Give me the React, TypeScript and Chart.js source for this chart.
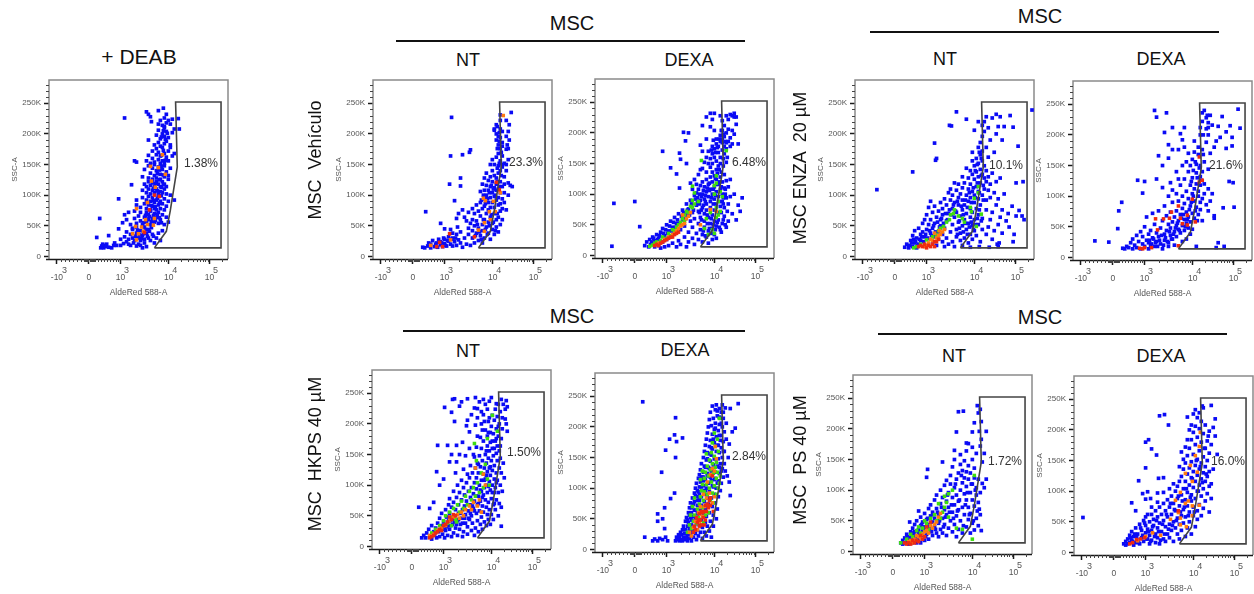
import React, { useEffect, useRef } from "react";
import { Chart, registerables } from "chart.js";
Chart.register(...registerables);

const xMajorTicks = [8, 40, 72, 120.3, 161.3];
const xMajorLabels = ["-10", "0", "10", "10", "10"];
const xSuper = ["3", "", "3", "4", "5"];
const xMinorTicks = [12,16,20,24,28,32,35,36,37,38,39,41,42,43,44,45,46,49,52,55,58,61,64,67,69,86.5,95,101,105.8,109.6,112.8,115.6,118,132.6,139.9,145,149,152.2,155,157.3,159.4,173.6];
const yMajorTicks = [0, 50, 100, 150, 200, 250];
const yMinorTicks = [10,20,30,40,60,70,80,90,110,120,130,140,160,170,180,190,210,220,230,240,260,270,280];
const gateX = [106,118,122,129,127.3,173,173,106];
const gateY = [14,41,75,146,252,252,14,14];

// x is in axis units (biexponential display), y in thousands of SSC-A
const deabBlue = [76,226,51,62,70,94,48,31,60,34,52,14,53,17,55,14,56,18,57,16,58,20,54,20,60,15,63,14,65,18,66,22,68,18,72,18,75,21,78,24,80,20,82,18,85,22,88,17,90,20,92,18,94,14,96,22,98,16,70,45,72,28,76,32,78,40,80,28,82,36,84,30,84,44,86,26,88,38,90,30,92,42,92,26,94,34,96,48,96,28,98,38,100,30,100,44,102,26,104,36,106,22,108,30,110,38,112,26,114,42,84,46,88,48,74,55,76,68,78,60,80,72,82,52,86,62,86,74,88,54,90,66,92,58,92,72,94,52,96,64,98,56,98,72,100,60,100,68,102,52,102,74,104,62,106,56,106,70,108,64,110,54,110,72,112,60,114,68,116,52,118,64,120,56,88,84,88,92,92,80,94,96,96,86,98,78,98,92,100,84,100,98,102,76,102,90,104,82,104,96,106,78,106,88,108,92,108,76,110,84,110,98,112,78,112,90,114,86,116,76,116,94,118,82,120,90,83,117,94,108,96,118,98,104,98,114,100,110,100,122,102,102,102,116,104,108,104,120,106,104,106,114,108,110,108,122,110,102,110,118,112,106,112,114,114,122,114,104,116,110,116,118,118,102,118,114,122,100,126,92,86,156,88,154,94,130,96,142,100,128,100,148,102,136,104,126,104,144,106,132,106,150,108,140,108,128,110,146,112,134,112,126,114,142,116,130,116,148,118,138,120,126,120,132,122,144,98,156,100,165,102,152,104,160,104,172,106,154,108,166,108,176,110,158,110,170,112,152,112,164,114,178,114,156,116,168,116,152,118,162,120,172,120,156,122,178,124,164,126,168,100,190,106,182,108,198,110,186,110,206,112,192,112,180,114,200,116,184,116,196,116,210,118,188,118,204,120,194,122,182,124,202,102,228,98,236,103,220,100,232,110,216,110,238,112,222,114,214,115,242,116,226,118,218,118,232,120,222,122,216,124,224,126,208,130,225,131,208,116,212];
const deabExtra = [87,33,91,35,93,29,95,37,97,44,99,33,101,41,103,47,105,33,89,43,95,55,97,67,99,61,101,65,103,57,105,67,107,59,109,69,111,63,113,55,103,83,105,91,107,81,109,95,111,87,113,99,105,111,107,119,109,107,111,125,113,113,115,117,109,135,111,141,113,147,115,133,113,165,115,173,117,157,113,195,115,205,117,191,119,201];
const deabOrange = [114,166,102,147,110,145,117,134,103,123,107,113,99,88,88,78,106,62,97,60,93,48,99,52,105,51,87,49,95,41,90,37,84,37,88,27];
const deabRed = [106,100,111,98,101,76,96,39];

const vehNtBlue = [79,227,78,164,90,166,98,174,97,170,77,118,88,128,88,115,53,73,82,91,68,54,139,235,128,231,134,222,137,215,50,15,52,14,55,17,56,22,58,14,58,20,60,26,62,16,64,22,65,15,66,28,68,19,68,24,70,16,72,28,72,21,74,17,76,25,76,32,78,20,80,17,80,30,82,24,84,18,84,36,86,27,88,22,88,40,90,15,92,30,94,20,96,36,98,18,100,42,72,45,78,44,85,48,80,38,96,46,98,54,100,30,100,60,102,22,102,50,104,38,104,58,106,26,106,46,108,66,108,34,110,52,110,22,110,42,112,60,112,30,114,48,114,70,116,38,116,56,118,28,118,64,120,44,120,54,122,36,122,70,124,60,124,48,126,64,126,40,128,52,128,74,130,60,84,62,86,70,90,76,92,64,94,58,96,72,100,78,102,70,104,84,106,74,108,88,110,78,112,94,112,82,114,100,116,88,116,76,118,96,118,80,120,104,120,88,122,98,122,80,124,92,124,108,126,84,126,96,128,104,128,86,130,78,130,94,132,88,134,76,132,104,136,100,108,106,110,118,112,108,112,128,114,116,114,136,116,124,116,108,118,130,118,114,120,122,120,140,122,112,122,132,124,118,124,128,126,136,126,110,128,122,128,140,130,114,130,150,132,130,132,118,134,140,136,120,138,116,140,114,118,150,120,158,122,150,124,162,126,148,126,168,128,156,128,176,130,146,130,164,132,152,134,150,136,158,130,186,126,182,124,190,128,194,122,206,124,200,125,212,126,196,128,208,130,204,130,180,134,196,136,204,137,190,135,182,134,175,136,176,128,222,124,215,122,208];
const vehNtExtra = [103,34,105,52,107,40,109,28,111,60,113,44,115,36,117,50,119,68,121,56,123,42,125,70,121,110,123,100,125,122,127,114,125,144,127,152,129,132,109,92,111,100,113,86,115,94,117,104,119,116,69,22,73,18,75,26,63,20,71,30,79,28,83,30,129,170,127,188,125,176,127,202];
const vehNtOrange = [131,230,111,95,113,91,121,90,128,104,117,73,123,73,112,55,118,60,106,43,112,41,78,27,58,18];
const vehNtRed = [124,121,127,109,67,23,64,16,70,16,77,37,102,32];

const vehDexBlue = [19,85,40,88,17,15,45,47,68,170,89,201,94,200,91,187,76,143,82,133,85,167,86,157,92,150,85,110,50,16,52,22,54,14,55,26,56,18,58,30,60,14,60,24,62,34,64,16,64,28,66,38,66,12,68,22,68,44,70,32,70,14,72,26,72,50,74,40,74,16,76,56,76,30,78,20,78,46,80,62,80,36,82,14,82,52,84,24,84,68,86,42,86,18,88,58,88,74,90,30,90,48,92,14,92,66,92,84,94,38,94,22,94,76,96,56,96,90,98,28,98,46,98,70,100,18,100,60,100,98,102,36,102,82,104,26,104,52,104,108,104,72,106,42,106,90,106,62,106,114,108,22,108,34,108,78,108,100,108,120,110,46,110,56,110,68,110,92,110,112,112,30,112,84,112,104,112,74,112,124,114,20,114,40,114,62,114,96,114,116,116,52,116,78,116,88,116,108,116,128,118,26,118,44,118,66,118,100,118,120,118,136,120,34,120,56,120,74,120,92,120,112,120,130,122,28,122,48,122,84,122,104,122,124,122,140,124,58,124,70,124,96,124,116,126,42,126,80,126,108,126,128,128,52,128,88,128,120,128,100,130,64,130,78,130,110,130,132,132,46,132,94,132,122,134,56,134,84,134,112,136,96,136,124,138,68,140,100,142,58,144,82,148,94,146,72,96,118,98,108,100,124,102,116,104,132,106,140,108,142,110,152,112,160,112,136,114,150,114,170,116,158,116,144,118,166,118,178,118,150,120,160,120,174,122,154,122,182,122,190,124,168,124,146,124,178,126,186,126,160,126,196,126,150,128,172,128,184,128,204,128,190,130,178,130,166,130,194,130,212,132,184,132,200,132,174,132,152,134,186,134,206,136,178,136,192,138,204,138,182,140,198,140,226,142,214,144,182,118,222,112,226,116,232,120,232,126,228,128,220,132,228,134,222,136,230,140,232,138,228,142,226,108,212,116,210,120,204,112,190,106,180,108,170,102,102,103,94,105,84,107,74,109,106,111,88,113,66,115,106,117,60,119,84,121,98,123,116,125,88,127,70,129,94,131,108,133,72];
const vehDexExtra = [57,22,59,28,63,26,65,32,69,36,71,42,73,36,75,48,77,40,79,54,81,46,83,58,85,52,87,64,89,70,91,60,93,74,95,66,97,84,99,74,101,92,103,86,105,100,107,96,109,82,111,98,113,110,115,118,117,94,119,108,121,126,123,134,125,120,127,112,129,84,131,100,125,140,127,136,129,146,121,168,123,176,125,190,127,204,129,198,131,186,119,188,117,172,133,160,129,158,105,70,107,58,109,40,111,32,113,52,115,44,117,36,119,50,121,42,123,54,125,46,127,38,129,58,131,50];
const vehDexGreen = [55,15,58,17,60,20,62,22,66,24,68,30,72,28,74,36,76,32,78,42,80,40,82,46,84,50,86,54,88,60,90,56,90,66,92,72,94,70,96,80,98,78,100,84,98,90,100,102,98,113,104,88,110,44,112,60,114,34,116,70,118,42,122,62,122,78,120,36,124,66,124,88,126,72,120,100,120,114,122,118,128,96,126,104,122,130,132,171,107,155];
const vehDexOrange = [64,20,70,26,74,30,78,34,80,36,82,40,84,44,86,48,88,50,90,52,92,60,94,64,96,70,88,66,122,72,116,75,106,50];
const vehDexRed = [60,16,62,18,64,16,66,20,68,22,70,24,72,26,74,28,76,30,78,30,80,34,82,36,84,38];

const enzNtBlue = [22,109,58,138,80,185,102,236,95,214,97,213,82,160,81,157,178,239,159,211,164,180,162,120,169,122,159,24,144,16,143,20,145,22,135,15,125,16,116,15,50,15,52,20,54,14,56,26,58,16,58,34,60,22,60,42,62,14,62,30,64,20,64,46,66,36,66,26,68,54,68,40,70,32,70,60,72,44,72,28,72,68,74,52,74,80,76,38,76,60,76,90,78,20,78,46,78,72,80,32,80,54,80,82,82,18,82,64,84,40,84,74,84,28,86,50,86,88,86,60,88,24,88,36,88,68,88,78,90,16,90,46,90,94,92,30,92,58,92,84,94,20,94,70,94,104,96,40,96,92,96,110,98,24,98,52,98,78,98,100,100,16,100,64,100,88,100,120,102,32,102,44,102,72,102,108,104,56,104,84,104,96,104,118,106,26,106,38,106,66,106,102,108,18,108,50,108,76,108,92,108,112,108,130,110,30,110,60,110,84,110,120,112,44,112,70,112,100,112,144,114,22,114,54,114,90,114,110,114,128,116,36,116,64,116,78,116,96,116,118,116,140,118,28,118,50,118,72,118,106,118,134,118,156,118,170,120,42,120,60,120,88,120,100,120,126,120,148,122,34,122,78,122,114,122,138,122,160,124,52,124,68,124,94,124,106,124,130,124,152,124,178,126,24,126,84,126,120,126,142,126,166,126,186,128,44,128,62,128,100,128,134,128,156,128,172,128,196,130,110,130,128,130,148,130,204,130,220,132,36,132,76,132,92,132,122,132,140,132,178,134,48,134,108,134,130,134,162,134,210,136,60,136,96,136,118,136,190,138,72,138,28,138,136,138,226,140,42,140,104,140,170,142,84,142,122,142,200,142,232,144,52,144,94,144,212,146,64,146,128,146,228,148,38,148,76,148,190,150,102,150,212,152,58,154,70,156,230,155,48,158,82,160,36,162,66,168,66,170,60,165,75,128,214,132,228,112,224,120,206,124,220];
const enzNtExtra = [55,18,57,22,59,28,61,24,63,18,65,28,67,32,69,24,71,36,73,30,75,42,77,34,79,50,81,40,83,56,85,48,87,62,89,54,91,70,93,60,95,76,97,68,99,84,101,74,103,90,105,58,107,82,109,68,111,92,113,80,115,104,117,88,119,112,121,96,123,120,125,104,127,132,129,116,103,36,105,46,109,40,111,54,113,36,115,48,117,56,119,44,121,52,123,62,125,76,127,58,129,92,121,140,123,150,125,170,127,160];
const enzNtGreen = [124,114,120,95,117,73,127,69,122,49,99,70,95,60,89,49,82,35,72,27,59,14,100,76,96,68,92,56,86,46,84,42,78,32,110,56,108,62,116,80,104,66,66,20,62,16,124,104];
const enzNtOrange = [88,40,86,36,84,34,82,30,80,38,78,26,76,28,74,22,72,18,70,16,90,44,85,42];
const enzNtRed = [64,16,66,18,68,16,70,20,72,14,74,18,76,16,78,20,80,24,82,24,84,28,80,16];

const enzDexBlue = [22,27,36,25,45,47,46,76,49,90,65,126,72,124,70,105,82,240,84,229,94,236,166,242,168,211,162,82,157,124,161,122,151,81,142,64,50,15,52,14,54,18,56,16,58,24,60,14,60,30,62,20,64,36,64,16,66,26,68,14,68,42,70,22,70,34,72,18,72,50,74,28,74,66,76,14,76,38,76,24,78,44,78,20,80,32,80,72,82,18,82,54,84,26,84,40,86,34,86,76,88,22,88,48,90,60,90,14,92,38,92,28,92,84,94,44,94,68,96,18,96,54,96,24,98,36,98,74,98,48,100,58,100,30,100,90,102,42,102,66,102,20,104,52,104,76,104,34,104,104,106,60,106,46,106,92,108,40,108,70,108,118,110,26,110,52,110,80,110,100,112,62,112,44,112,128,112,88,114,56,114,74,114,108,114,30,116,48,116,66,116,96,116,140,118,38,118,84,118,118,118,150,118,58,120,72,120,104,120,130,120,160,120,46,122,92,122,64,122,112,122,172,122,190,124,82,124,138,124,120,124,152,124,18,126,100,126,70,126,108,126,168,126,180,128,90,128,132,128,118,128,150,128,200,128,212,128,78,130,96,130,60,130,140,130,176,130,222,130,236,132,104,132,156,132,120,132,240,134,86,134,188,134,210,134,228,136,112,136,76,136,144,136,200,138,92,138,170,138,232,140,216,140,104,142,68,142,180,144,190,144,16,146,214,146,24,148,196,150,230,152,18,154,178,154,205,158,215,160,182,160,196,136,212,136,220,135,232,112,212,100,212,108,202,96,184,92,204,100,176,96,162,90,150,86,166,84,128,90,114,96,100,110,150,106,176,112,180,110,192,116,170,114,156,104,140,106,128,98,122,100,110];
const enzDexExtra = [105,56,107,44,109,64,111,70,113,50,115,62,117,78,119,90,121,100,123,76,125,60,103,48,101,38,99,30,97,42,95,26,93,32,91,20,89,36,87,28,85,18,83,24,81,30,79,22,77,28,119,124,121,142,123,156,125,130,127,146,129,126,131,168,131,200];
const enzDexRed = [127,164,130,126,127,123,120,95,106,84,99,74,83,63,91,63,97,64,108,64,115,69,110,55,115,53,123,58,85,45,67,15,79,16,106,19,70,14,72,16];

const hkpNtBlue = [47,64,65,122,66,165,73,227,81,240,83,241,80,219,88,229,96,241,104,243,103,226,106,225,120,243,118,237,125,233,135,238,136,188,130,33,83,204,76,165,85,165,85,138,95,197,98,187,91,170,90,236,100,215,108,236,112,215,112,240,116,224,96,206,104,198,106,210,110,200,88,150,92,126,84,120,78,138,80,150,72,110,68,100,62,72,58,62,50,14,52,18,54,14,55,22,57,28,58,16,60,34,60,12,62,24,63,18,64,30,65,14,66,38,67,24,68,46,68,16,70,30,70,54,71,20,72,40,73,14,74,60,74,26,75,48,76,18,76,34,77,68,78,54,78,28,79,42,80,16,80,64,81,36,82,72,82,22,83,50,84,30,84,60,85,80,86,42,86,18,87,68,87,54,88,28,88,88,89,36,90,76,90,46,91,16,91,60,92,96,92,24,93,66,93,84,94,38,94,52,95,104,95,74,96,20,96,32,97,58,97,90,98,44,98,112,99,68,99,80,100,26,100,96,100,50,101,120,101,38,102,62,102,86,103,104,103,74,103,18,104,30,104,128,105,54,105,94,105,112,106,42,106,68,106,136,107,82,107,24,107,120,108,100,108,58,108,148,109,36,109,74,109,130,110,90,110,48,110,108,110,160,111,28,111,66,111,140,112,118,112,84,112,56,112,172,113,96,113,40,113,128,114,76,114,150,114,110,114,190,115,64,115,34,115,136,115,100,116,52,116,164,116,88,116,122,116,180,117,72,117,44,117,144,117,204,118,106,118,60,118,128,118,156,119,92,119,36,119,170,119,116,120,78,120,140,120,196,120,52,121,100,121,160,121,214,121,124,122,68,122,184,122,44,122,148,123,110,123,88,123,206,123,132,124,172,124,60,124,224,124,96,125,152,125,120,125,192,125,76,126,140,126,212,126,108,126,164,127,50,127,88,127,232,127,180,128,128,128,70,128,200,128,156,129,100,129,220,129,144,130,120,130,176,130,240,130,64,131,192,131,210,131,90,132,136,132,232,133,112,134,224,134,208,135,200,136,228,94,148,98,160,102,150,106,180,110,220,114,232,118,210,99,132,96,118,90,108,86,100,82,90,78,78];
const hkpNtExtra = [97,46,99,54,101,66,103,58,105,82,107,70,109,92,111,80,113,108,115,116,117,98,119,130,121,88,123,70,125,104,91,38,93,46,89,54,87,44,85,36,83,40,81,44,79,34,77,42,75,32,73,28,71,34,103,146,105,162,107,134,109,178,111,190,113,204,115,156,117,186,119,186,121,172,123,160,125,176,127,196,129,164];
const hkpNtGreen = [60,22,64,28,68,34,72,42,74,50,76,38,78,56,80,48,82,62,84,44,86,68,88,56,90,74,92,62,94,82,96,68,98,90,100,76,102,96,104,82,106,104,108,88,110,120,112,96,114,134,116,110,118,100,105,140,103,168,116,176,121,214,126,188,80,34,85,40];
const hkpNtOrange = [58,18,62,20,66,26,70,30,74,34,78,42,82,48,86,52,90,56,94,60,98,66,102,72,88,46,92,50,100,60,106,66,108,76,110,56,114,100,112,118,104,128];
const hkpNtRed = [58,14,60,16,62,18,64,22,66,24,68,28,70,26,72,34,74,36,76,40,78,48,80,44,82,52,84,50];

const hkpDexBlue = [50,20,58,14,60,17,63,14,65,18,68,16,71,20,73,14,48,241,81,215,75,180,80,187,82,176,88,182,71,162,81,150,67,126,80,92,76,83,70,68,63,58,63,46,68,50,70,34,144,238,141,198,136,230,131,231,132,180,81,14,82,20,83,16,84,24,85,14,85,20,86,28,87,16,87,24,88,14,88,32,89,20,89,38,90,26,90,16,91,46,91,32,92,20,92,52,93,38,93,14,94,26,94,60,94,44,95,18,95,34,95,68,96,52,96,24,96,76,97,40,97,60,97,14,98,30,98,84,98,70,99,46,99,20,99,54,100,92,100,36,100,64,100,78,101,26,101,100,101,50,102,16,102,42,102,86,102,108,103,58,103,72,103,32,104,116,104,94,104,22,104,50,105,80,105,40,105,102,105,122,106,64,106,28,106,130,106,110,107,86,107,48,107,140,107,72,108,18,108,118,108,96,108,36,109,150,109,126,109,58,109,104,110,78,110,28,110,160,110,136,110,90,111,44,111,114,111,170,111,66,112,146,112,100,112,22,112,54,112,180,113,124,113,84,113,158,113,38,113,190,114,74,114,134,114,108,114,200,115,30,115,168,115,60,115,94,115,212,116,144,116,118,116,46,116,178,116,224,117,84,117,154,117,20,117,128,117,202,118,188,118,70,118,104,118,234,118,164,119,38,119,138,119,56,119,214,120,114,120,174,120,90,120,196,120,148,121,228,121,76,121,126,121,206,122,160,122,184,122,100,122,50,122,236,123,136,123,218,123,66,124,170,124,112,124,194,124,148,124,86,125,230,125,124,125,204,125,158,126,178,126,96,126,214,126,140,127,186,127,108,127,224,127,166,128,132,128,200,128,236,128,150,129,118,129,176,129,214,130,140,130,192,130,160,131,128,132,206,133,120,134,150,135,172,135,110,136,88,138,192];
const hkpDexExtra = [93,24,95,30,97,48,99,30,101,64,103,80,105,90,107,102,109,118,111,96,113,120,115,132,117,112,119,102,121,116,123,108,125,134,127,128,129,160,121,148,123,170,125,186,127,206,129,224,123,226,125,216,121,198,119,180,117,166,115,156,113,148,111,134,109,112,107,118,105,84,103,96,101,88,99,74,97,68,95,56,93,48];
const hkpDexGreen = [93,28,95,40,97,34,99,46,100,56,102,42,103,66,104,52,105,74,106,60,106,86,107,96,108,68,108,106,109,44,109,80,110,116,110,94,111,56,111,126,112,72,112,106,113,90,113,136,114,60,114,120,115,100,115,146,116,80,116,130,117,110,117,158,118,92,118,140,119,124,119,76,120,152,120,104,121,168,121,134,122,116,122,90,122,142,123,180,123,126,124,160,124,100,125,214,125,108,126,120,120,190,118,174,112,156,108,128,106,114,100,84,98,70,96,56];
const hkpDexOrange = [95,28,97,22,99,36,101,46,103,32,104,60,105,44,106,70,108,54,109,90,110,70,112,84,113,110,115,92,116,122,118,132,120,128,122,148,120,86,118,76,121,168];
const hkpDexRed = [99,28,100,38,101,32,102,52,103,44,104,48,105,38,105,58,106,48,107,62,107,40,108,60,109,52,110,62,111,48,111,72,112,62,113,74,114,68,115,80,116,72,110,40,116,84,118,120,119,62];

const psNtBlue = [106,228,111,229,125,238,126,226,129,212,122,210,134,196,120,195,104,195,129,183,75,134,74,121,66,66,57,48,130,111,127,69,129,34,122,35,90,146,102,165,114,177,48,14,50,18,50,12,52,14,52,22,54,16,54,28,56,20,56,12,58,32,58,24,60,14,60,38,60,28,62,18,62,44,62,32,64,24,64,14,64,50,66,36,66,20,66,30,68,42,68,14,68,56,70,26,70,48,70,34,72,18,72,62,72,40,74,28,74,52,76,44,76,20,76,70,78,34,78,58,78,76,80,26,80,48,80,64,82,40,82,84,82,54,84,30,84,70,84,92,86,46,86,60,86,24,88,78,88,36,88,100,90,54,90,88,90,30,92,68,92,44,92,108,94,26,94,60,94,82,94,116,96,38,96,96,96,72,98,50,98,124,98,110,100,32,100,88,100,64,100,138,102,44,102,104,102,76,102,150,104,24,104,58,104,118,104,92,106,36,106,82,106,128,106,68,108,100,108,50,108,142,108,158,110,30,110,72,110,112,110,132,112,60,112,94,112,120,112,148,114,40,114,84,114,106,114,130,114,164,116,52,116,72,116,118,116,140,116,176,118,30,118,96,118,62,118,128,120,46,120,84,120,110,120,150,120,170,122,74,122,136,122,120,124,54,124,92,124,104,124,160,126,42,126,80,126,118,128,60,128,96,128,172,130,146,132,160,132,104,134,118,127,196,128,232];
const psNtExtra = [55,24,57,18,59,22,61,30,63,24,65,34,67,28,69,44,71,36,73,24,75,54,77,40,79,32,81,60,83,36,85,64,87,50,89,72,91,40,93,56,95,92,97,64,99,76,101,54,103,110,105,66,107,84,109,124,111,42,113,76,115,96,117,60,119,110,121,50,123,100,125,66];
const psNtGreen = [48,14,54,20,58,28,60,24,64,34,66,40,68,30,70,38,72,50,74,46,76,36,78,54,82,60,84,50,88,54,90,64,92,72,94,80,92,90,96,94,100,100,86,78,96,56,104,38,120,20,110,36,122,124];
const psNtOrange = [56,16,58,18,60,14,62,20,64,26,66,24,68,22,70,28,72,32,74,34,76,30,78,42,80,38,82,44,84,48,86,56,88,62];
const psNtRed = [52,14,54,12,56,14,58,12,60,18,62,14,64,18,66,16,68,26,70,20,72,24,74,40,78,48];

const psDexBlue = [9,57,86,223,91,225,95,208,72,180,75,184,78,169,83,159,72,138,65,117,85,121,90,122,69,96,74,99,84,97,58,81,72,87,77,88,62,68,138,240,129,239,122,233,114,221,136,108,50,14,52,18,52,12,54,22,54,14,56,16,56,28,58,20,58,34,60,12,60,26,62,16,62,40,64,30,64,20,66,46,66,14,68,24,68,36,70,52,70,18,72,32,72,44,72,58,74,22,74,38,76,14,76,50,76,28,78,62,78,36,78,20,80,44,80,54,82,16,82,30,82,68,84,40,84,24,84,58,86,48,86,14,86,74,88,34,88,62,90,22,90,52,90,80,92,42,92,18,92,68,94,58,94,30,94,86,96,46,96,74,96,24,98,36,98,62,98,92,100,50,100,18,100,80,102,40,102,68,102,100,104,30,104,56,104,88,104,108,106,46,106,76,106,116,106,22,108,60,108,36,108,94,108,124,110,70,110,48,110,104,110,136,112,26,112,86,112,58,112,116,112,146,114,40,114,76,114,98,114,128,114,158,116,50,116,66,116,110,116,138,116,170,118,30,118,84,118,94,118,122,118,148,118,184,120,60,120,74,120,106,120,132,120,160,120,196,122,42,122,88,122,116,122,142,122,176,122,206,124,54,124,100,124,68,124,126,124,152,124,188,124,220,126,78,126,110,126,136,126,166,126,202,126,228,128,92,128,60,128,120,128,146,128,180,128,214,130,72,130,104,130,130,130,156,130,194,130,236,132,84,132,116,132,140,132,170,132,208,134,96,134,124,134,150,134,182,136,66,136,132,136,162,136,198,138,112,138,88,138,176,140,204,140,136,142,190,144,160,142,218,110,152,106,140,108,164,112,172,114,184,118,208,116,200,120,226,100,112,96,104,90,98,84,82,78,74,74,62];
const psDexExtra = [57,24,59,18,61,30,63,26,65,16,67,40,69,28,71,48,73,22,75,34,77,18,79,42,81,26,83,52,85,34,87,20,89,46,91,30,93,62,95,38,97,80,99,44,101,70,103,52,105,92,107,66,109,84,111,74,113,104,115,60,117,90,119,120,121,66,123,150,125,100,127,140,129,114,131,170,133,128,135,190];
const psDexOrange = [127,196,126,173,122,158,117,142,112,129,124,131,119,116,107,98,102,85,112,80,115,84,119,76,126,77,105,65,97,54,107,56,119,60,107,45,113,42,87,28,79,32,72,26,64,19];
const psDexRed = [59,16,71,24,63,21,105,68,56,14,67,22];

const pairs = (a: number[]) => { const o: {x:number;y:number}[] = []; for (let i = 0; i < a.length; i += 2) o.push({ x: a[i], y: a[i + 1] }); return o; };
const panels: any[] = [
 {l:49,t:79,pct:"1.38%",px:201,py:163,b:[...deabBlue,...deabExtra],o:deabOrange,r:deabRed},
 {l:373,t:79,pct:"23.3%",px:526,py:162,b:[...vehNtBlue,...vehNtExtra],o:vehNtOrange,r:vehNtRed},
 {l:595,t:78,pct:"6.48%",px:748,py:162,bg:1,b:[...vehDexBlue,...vehDexExtra],g:vehDexGreen,o:vehDexOrange,r:vehDexRed},
 {l:855,t:79,pct:"10.1%",px:1006,py:165,b:[...enzNtBlue,...enzNtExtra],g:enzNtGreen,o:enzNtOrange,r:enzNtRed},
 {l:1073,t:80,pct:"21.6%",px:1226,py:165,b:[...enzDexBlue,...enzDexExtra],r:enzDexRed},
 {l:372,t:369,pct:"1.50%",px:524,py:452,b:[...hkpNtBlue,...hkpNtExtra],g:hkpNtGreen,o:hkpNtOrange,r:hkpNtRed},
 {l:595,t:372,pct:"2.84%",px:748,py:456,bg:1,b:[...hkpDexBlue,...hkpDexExtra],g:hkpDexGreen,o:hkpDexOrange,r:hkpDexRed},
 {l:853,t:374,pct:"1.72%",px:1005,py:461,b:[...psNtBlue,...psNtExtra],g:psNtGreen,o:psNtOrange,r:psNtRed},
 {l:1074,t:375,pct:"16.0%",px:1228,py:461,b:[...psDexBlue,...psDexExtra],o:psDexOrange,r:psDexRed},
];
const ML=42,MT=3,MR=3,MB=39,BOX=180;
const FONT="Liberation Sans";
const frame={id:"frame",beforeDatasetsDraw(c:any){const {ctx,chartArea:a,scales:s}=c;ctx.save();
 ctx.strokeStyle="#8a8a8a";ctx.lineWidth=1.5;ctx.beginPath();ctx.moveTo(a.left,a.bottom);ctx.lineTo(a.left,a.top);ctx.lineTo(a.right,a.top);ctx.lineTo(a.right,a.bottom);ctx.stroke();
 ctx.strokeStyle="#1a1a1a";ctx.beginPath();ctx.moveTo(a.left-3,a.bottom+.5);ctx.lineTo(a.right,a.bottom+.5);ctx.stroke();
 ctx.lineWidth=1;ctx.strokeStyle="#444";ctx.beginPath();
 for(const v of yMinorTicks){const y=Math.round(s.y.getPixelForValue(v))+.5;ctx.moveTo(a.left-3,y);ctx.lineTo(a.left,y);}
 for(const v of xMinorTicks){const x=Math.round(s.x.getPixelForValue(v))+.5;ctx.moveTo(x,a.bottom);ctx.lineTo(x,a.bottom+3);}
 ctx.stroke();ctx.restore();},
 afterDraw(c:any){const {ctx,chartArea:a,scales:s}=c;ctx.save();ctx.fillStyle="#555";ctx.font=`9px '${FONT}'`;ctx.textAlign="center";ctx.textBaseline="middle";
 xMajorTicks.forEach((v,i)=>{if(xSuper[i])ctx.fillText(xSuper[i],s.x.getPixelForValue(v)+(i===0?7.5:6),a.bottom+11.5);});ctx.restore();}};
const layer=(label:string,d:number[]|undefined,color:string,order:number,r:number)=>({label,data:pairs(d||[]),backgroundColor:color,pointStyle:"rect",pointRadius:r,borderWidth:0,order});
function Panel({p}:{p:any}){const ref=useRef<HTMLCanvasElement>(null);
 useEffect(()=>{const c=new Chart(ref.current!,{type:"scatter",plugins:[frame],data:{datasets:[
 {label:"gate",type:"line",data:pairs(gateX.flatMap((x,i)=>[x,gateY[i]])),borderColor:"#444",borderWidth:1.6,pointRadius:0,order:0,tension:0,fill:false} as any,
 layer("red",p.r,"#ee2a10",1,2.5),layer("orange",p.o,"#ff7a10",2,2.5),layer("green",p.g,"#3fdc10",3,2.5),layer("blue",p.b,"#0a0af5",4,2.6),
 ]},options:{animation:false,responsive:false,layout:{padding:{left:0,top:MT,right:MR,bottom:0}},plugins:{legend:{display:false},tooltip:{enabled:false}},
 scales:{x:{type:"linear",min:0,max:180,afterBuildTicks:(s:any)=>{s.ticks=xMajorTicks.map(v=>({value:v}));},afterFit:(s:any)=>{s.height=MB;s.paddingLeft=0;s.paddingRight=0;},
 grid:{drawOnChartArea:false,tickLength:5,tickColor:"#1a1a1a",tickWidth:1.5},border:{display:false},
 ticks:{padding:9,autoSkip:false,maxRotation:0,minRotation:0,color:"#555",font:{size:8.5,family:FONT},callback:(v:any)=>xMajorLabels[xMajorTicks.indexOf(v)]??""},
 title:{display:true,text:"AldeRed 588-A",color:"#555",font:{size:8.5,family:FONT},padding:0}},
 y:{type:"linear",min:-4.2,max:288,afterBuildTicks:(s:any)=>{s.ticks=yMajorTicks.map(v=>({value:v}));},afterFit:(s:any)=>{s.width=ML;s.paddingTop=0;s.paddingBottom=0;},
 grid:{drawOnChartArea:false,tickLength:5,tickColor:"#1a1a1a",tickWidth:1.5},border:{display:false},
 ticks:{padding:3,color:"#555",font:{size:8,family:FONT},callback:(v:any)=>v===0?"0":v+"K"},
 title:{display:true,text:"SSC-A",color:"#555",font:{size:8,family:FONT},padding:{top:3,bottom:0}}}}} as any} as any);
 return()=>c.destroy();},[]);
 return <canvas ref={ref} width={ML+BOX+MR} height={MT+BOX+MB} style={{position:"absolute",left:p.l-ML,top:p.t-MT,display:"block",filter:"blur(0.35px)"}}/>;}
const T=({x,y,s,r,children,c}:any)=><div style={{position:"absolute",left:x,top:y,transform:`translate(-50%,-50%)${r?" rotate(-90deg)":""}`,fontSize:s,color:c||"#111",whiteSpace:"pre",lineHeight:1}}>{children}</div>;
const Rule=({x1,x2,y}:any)=><div style={{position:"absolute",left:x1,top:y,width:x2-x1,height:1.5,background:"#111"}}/>;
export default function App(){return <div style={{position:"fixed",left:0,top:0,width:1254,height:594,overflow:"hidden",background:"#fff",fontFamily:`'${FONT}'`}}>
 {panels.map((p,i)=><Panel key={i} p={p}/>)}
 {panels.map((p,i)=><div key={i} style={{position:"absolute",left:p.px,top:p.py,transform:"translate(-50%,-50%)",fontSize:12,color:"#333",background:p.bg?"#fff":"transparent",padding:p.bg?"3px 0 3px 2px":0,lineHeight:1}}>{p.pct}</div>)}
 <T x={139} y={56} s={21}>+ DEAB</T>
 <T x={572} y={23} s={20}>MSC</T><T x={1040} y={16} s={20}>MSC</T><T x={572} y={316} s={20}>MSC</T><T x={1040} y={317} s={20}>MSC</T>
 <Rule x1={396} x2={745} y={40}/><Rule x1={870} x2={1219} y={31}/><Rule x1={403} x2={745} y={330}/><Rule x1={878} x2={1227} y={333}/>
 <T x={468} y={60} s={18}>NT</T><T x={689} y={60} s={18}>DEXA</T><T x={945} y={59} s={18}>NT</T><T x={1161} y={59} s={18}>DEXA</T>
 <T x={468} y={351} s={18}>NT</T><T x={685} y={350} s={18}>DEXA</T><T x={954} y={356} s={18}>NT</T><T x={1161} y={356} s={18}>DEXA</T>
 <T x={315} y={160} s={18} r>{"MSC  Vehículo"}</T><T x={800} y={168} s={18} r>{"MSC ENZA  20 µM"}</T>
 <T x={315} y={454} s={18} r>{"MSC  HKPS 40 µM"}</T><T x={800} y={460} s={18} r>{"MSC  PS 40 µM"}</T>
 </div>;}
